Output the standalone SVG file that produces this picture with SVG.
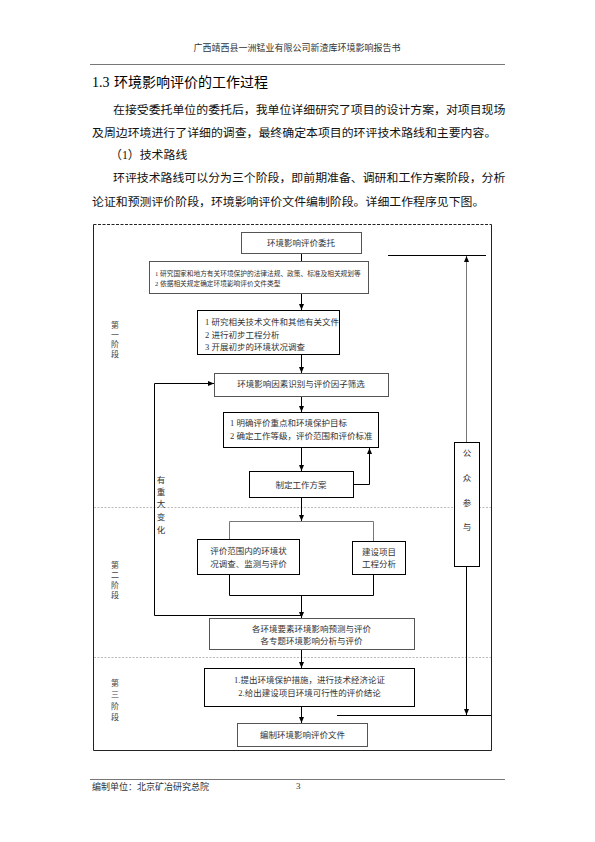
<svg xmlns="http://www.w3.org/2000/svg" width="595" height="842" viewBox="0 0 595 842">
<style>
.bg{fill:#fff}
.rule{stroke:#777;stroke-width:1}
.hdr{font-family:"Liberation Serif","Noto Sans CJK SC",serif;font-size:9px;fill:#333}
.title{font-family:"Liberation Serif","Noto Sans CJK SC",serif;font-size:14px;fill:#000}
.para{font-family:"Liberation Serif","Noto Sans CJK SC",serif;font-size:11.9px;fill:#111}
.box{fill:#fff;stroke:#000;stroke-width:1}
.boxg{fill:#fff;stroke:#555;stroke-width:1}
.t{font-family:"Liberation Serif","Noto Sans CJK SC",serif;font-size:8.5px;fill:#333;dominant-baseline:central}
.s{font-size:6.7px}
.c{text-anchor:middle}
.lbl{font-family:"Liberation Serif","Noto Sans CJK SC",serif;font-size:8px;fill:#444;dominant-baseline:central;text-anchor:middle}
.ln{fill:none;stroke:#000;stroke-width:1}
.lng{fill:none;stroke:#777;stroke-width:1}
.frame{fill:none;stroke:#222;stroke-width:1}
.dash{fill:none;stroke:#222;stroke-width:1;stroke-dasharray:3,1.5}
.dot{fill:none;stroke:#bbb;stroke-width:1;stroke-dasharray:2,1.5}
</style>
<defs>
<marker id="arr" viewBox="0 0 10 10" refX="10" refY="5" markerWidth="6" markerHeight="5" markerUnits="userSpaceOnUse" orient="auto" preserveAspectRatio="none">
<path d="M0,0 L10,5 L0,10 z" fill="#000"/>
</marker>
</defs>
<rect class="bg" x="0" y="0" width="595" height="842"/>

<g id="header">
<text class="hdr" x="297" y="51" text-anchor="middle">广西靖西县一洲锰业有限公司新渣库环境影响报告书</text>
<line class="rule" x1="90" y1="64.5" x2="505" y2="64.5"/>
</g>

<g id="body-text">
<text class="title" x="92" y="87">1.3 <tspan x="114">环境影响评价的工作过程</tspan></text>
<text class="para" x="113" y="114">在接受委托单位的委托后，我单位详细研究了项目的设计方案，对项目现场</text>
<text class="para" x="92" y="137">及周边环境进行了详细的调查，最终确定本项目的环评技术路线和主要内容。</text>
<text class="para" x="110" y="159">（1）技术路线</text>
<text class="para" x="113" y="182">环评技术路线可以分为三个阶段，即前期准备、调研和工作方案阶段，分析</text>
<text class="para" x="92" y="206">论证和预测评价阶段，环境影响评价文件编制阶段。详细工作程序见下图。</text>
</g>

<g id="frame">
<line class="dash" x1="93.5" y1="224.5" x2="491.5" y2="224.5"/>
<polyline class="frame" points="93.5,224.5 93.5,750.5 491.5,750.5 491.5,224.5"/>
<line class="dot" x1="94" y1="507.5" x2="491" y2="507.5"/>
<line class="dot" x1="94" y1="657.5" x2="491" y2="657.5"/>
</g>

<g id="stages">
<text class="lbl" x="115" y="325">第</text>
<text class="lbl" x="115" y="335">一</text>
<text class="lbl" x="115" y="344">阶</text>
<text class="lbl" x="115" y="354">段</text>
<text class="lbl" x="115" y="565">第</text>
<text class="lbl" x="115" y="575">二</text>
<text class="lbl" x="115" y="585">阶</text>
<text class="lbl" x="115" y="595">段</text>
<text class="lbl" x="115" y="683">第</text>
<text class="lbl" x="115" y="694">三</text>
<text class="lbl" x="115" y="706">阶</text>
<text class="lbl" x="115" y="717">段</text>
</g>

<g id="connectors">
<line class="ln" x1="301.5" y1="253" x2="301.5" y2="261"/>
<line class="ln" x1="301.5" y1="293" x2="301.5" y2="310" marker-end="url(#arr)"/>
<line class="ln" x1="301.5" y1="354" x2="301.5" y2="373" marker-end="url(#arr)"/>
<line class="ln" x1="301.5" y1="396" x2="301.5" y2="412" marker-end="url(#arr)"/>
<line class="ln" x1="301.5" y1="447" x2="301.5" y2="471" marker-end="url(#arr)"/>
<polyline class="ln" points="353,484.5 369.5,484.5 369.5,448" marker-end="url(#arr)"/>
<line class="ln" x1="301.5" y1="497" x2="301.5" y2="521" marker-end="url(#arr)"/>
<polyline class="lng" points="229.5,539 229.5,521.5 373.5,521.5 373.5,541"/>
<polyline class="ln" points="229.5,574 229.5,595.5 373.5,595.5 373.5,574"/>
<line class="ln" x1="301.5" y1="595" x2="301.5" y2="618" marker-end="url(#arr)"/>
<polyline class="ln" points="301.5,615.5 154.5,615.5 154.5,383.5 214,383.5" marker-end="url(#arr)"/>
<line class="ln" x1="301.5" y1="649" x2="301.5" y2="668" marker-end="url(#arr)"/>
<line class="ln" x1="301.5" y1="706" x2="301.5" y2="723" marker-end="url(#arr)"/>
<line class="ln" x1="388" y1="255.5" x2="486" y2="255.5"/>
<line class="lng" x1="466.5" y1="442" x2="466.5" y2="256" marker-end="url(#arr)"/>
<line class="ln" x1="466.5" y1="566" x2="466.5" y2="715" marker-end="url(#arr)"/>
<line class="ln" x1="337" y1="715.5" x2="491" y2="715.5"/>
</g>

<g id="n-weituo">
<rect class="boxg" x="241.5" y="232.5" width="120" height="21"/>
<text class="t c" x="301" y="243">环境影响评价委托</text>
</g>

<g id="n-fagui">
<rect class="boxg" x="149.5" y="261.5" width="219" height="32"/>
<text class="t s" x="155" y="273">1 研究国家和地方有关环境保护的法律法规、政策、标准及相关规划等</text>
<text class="t s" x="155" y="283.5">2 依据相关规定确定环境影响评价文件类型</text>
</g>

<g id="n-yanjiu">
<rect class="box" x="197.5" y="310.5" width="142" height="44"/>
<text class="t" x="205" y="322">1 研究相关技术文件和其他有关文件</text>
<text class="t" x="205" y="334.5">2 进行初步工程分析</text>
<text class="t" x="205" y="347">3 开展初步的环境状况调查</text>
</g>

<g id="n-shibie">
<rect class="boxg" x="214.5" y="373.5" width="174" height="23"/>
<text class="t c" x="301" y="384">环境影响因素识别与评价因子筛选</text>
</g>

<g id="n-mingque">
<rect class="box" x="223.5" y="412.5" width="155" height="35"/>
<text class="t" x="230" y="423">1 明确评价重点和环境保护目标</text>
<text class="t" x="230" y="435.5">2 确定工作等级，评价范围和评价标准</text>
</g>

<g id="n-fangan">
<rect class="box" x="249.5" y="471.5" width="104" height="26"/>
<text class="t c" x="301" y="484.5">制定工作方案</text>
</g>

<g id="n-xianzhuang">
<rect class="box" x="197.5" y="539.5" width="102" height="35"/>
<text class="t c" x="248.5" y="551">评价范围内的环境状</text>
<text class="t c" x="248.5" y="563.5">况调查、监测与评价</text>
</g>

<g id="n-gongcheng">
<rect class="box" x="352.5" y="541.5" width="53" height="33"/>
<text class="t c" x="379" y="551.5">建设项目</text>
<text class="t c" x="379" y="563.5">工程分析</text>
</g>

<g id="n-yuce">
<rect class="boxg" x="209.5" y="618.5" width="205" height="31"/>
<text class="t c" x="311.5" y="628.5">各环境要素环境影响预测与评价</text>
<text class="t c" x="311.5" y="641">各专题环境影响分析与评价</text>
</g>

<g id="n-cuoshi">
<rect class="box" x="204.5" y="668.5" width="210" height="38"/>
<text class="t c" x="309.5" y="679.5">1.提出环境保护措施，进行技术经济论证</text>
<text class="t c" x="309.5" y="693">2.给出建设项目环境可行性的评价结论</text>
</g>

<g id="n-bianzhi">
<rect class="boxg" x="237.5" y="723.5" width="130" height="23"/>
<text class="t c" x="302.5" y="735">编制环境影响评价文件</text>
</g>

<g id="n-gongzhong">
<rect class="box" x="454.5" y="442.5" width="25" height="124"/>
<text class="t c" x="467" y="453">公</text>
<text class="t c" x="467" y="478">众</text>
<text class="t c" x="467" y="503">参</text>
<text class="t c" x="467" y="527">与</text>
</g>

<g id="l-change">
<text class="t c" x="161" y="480">有</text>
<text class="t c" x="161" y="492">重</text>
<text class="t c" x="161" y="504">大</text>
<text class="t c" x="161" y="517">变</text>
<text class="t c" x="161" y="530">化</text>
</g>

<g id="footer">
<line class="rule" x1="90" y1="779.5" x2="505" y2="779.5"/>
<text class="hdr" x="92" y="790">编制单位：北京矿冶研究总院</text>
<text class="hdr" x="296" y="789">3</text>
</g>
</svg>
